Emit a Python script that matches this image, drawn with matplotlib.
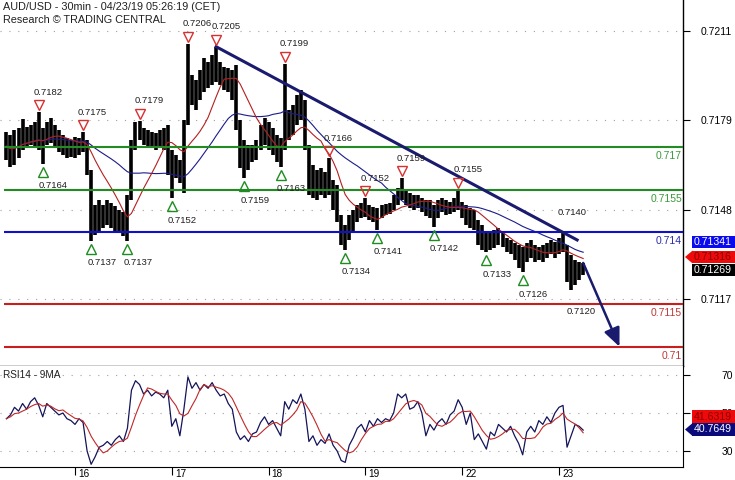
import numpy as np
import pandas as pd
import matplotlib
matplotlib.use("Agg")
import matplotlib.pyplot as plt
from matplotlib.patches import Polygon, Rectangle
from matplotlib.transforms import offset_copy

plt.rcParams['font.family'] = ['Liberation Sans', 'DejaVu Sans']

# AUD/USD (two bars merged into one hourly bar)
high = [
    0.71751, 0.71741, 0.71758, 0.71765, 0.71797, 0.71769, 0.71776, 0.71786, 0.7182, 0.71765,
    0.71786, 0.71800, 0.71776, 0.71758, 0.71741, 0.71730, 0.71723, 0.71734, 0.71730, 0.7175,
    0.71723, 0.71618, 0.71496, 0.71513, 0.71496, 0.71513, 0.71503, 0.71492, 0.71478, 0.71471,
    0.71531, 0.71723, 0.71786, 0.7179, 0.71765, 0.71758, 0.71751, 0.71748, 0.71758, 0.71765,
    0.71776, 0.71688, 0.71671, 0.71653, 0.71793, 0.7206, 0.71951, 0.71933, 0.71968, 0.72010,
    0.71996, 0.72021, 0.7205, 0.71996, 0.71979, 0.71975, 0.71968, 0.71986, 0.71793, 0.71723,
    0.71706, 0.71706, 0.71723, 0.71776, 0.71800, 0.71786, 0.71765, 0.71741, 0.71730, 0.7199,
    0.71828, 0.71846, 0.71881, 0.71898, 0.71863, 0.71706, 0.71636, 0.71618, 0.71625, 0.71611,
    0.7166, 0.71583, 0.71566, 0.71461, 0.71426, 0.71461, 0.71478, 0.71496, 0.71503, 0.7152,
    0.71496, 0.71489, 0.71485, 0.71496, 0.71499, 0.71503, 0.71531, 0.71555, 0.7159, 0.71548,
    0.71538, 0.71531, 0.71531, 0.71520, 0.71513, 0.71513, 0.71496, 0.71513, 0.71520, 0.71513,
    0.71506, 0.71520, 0.7155, 0.71506, 0.71496, 0.71485, 0.71478, 0.71443, 0.71426, 0.71401,
    0.71401, 0.71408, 0.71415, 0.71401, 0.71380, 0.71373, 0.71363, 0.71356, 0.71349, 0.71363,
    0.71373, 0.71356, 0.71349, 0.71356, 0.71363, 0.71373, 0.71366, 0.71380, 0.7140, 0.71356,
    0.71321, 0.71303, 0.71296, 0.71293,
]
low = [
    0.71653, 0.71629, 0.71636, 0.71660, 0.71688, 0.71699, 0.71706, 0.71695, 0.71688, 0.7164,
    0.71706, 0.71713, 0.71695, 0.71681, 0.71671, 0.71660, 0.71664, 0.71660, 0.71671, 0.71681,
    0.71601, 0.7137, 0.71391, 0.71401, 0.71415, 0.71426, 0.71415, 0.71401, 0.71398, 0.71387,
    0.7137, 0.71513, 0.71688, 0.71723, 0.71706, 0.71695, 0.71695, 0.71688, 0.71699, 0.71688,
    0.71601, 0.7152, 0.71590, 0.71573, 0.71538, 0.71776, 0.71846, 0.71828, 0.71863, 0.71891,
    0.71905, 0.71916, 0.71926, 0.71916, 0.71898, 0.71891, 0.71863, 0.71758, 0.71625, 0.7159,
    0.71618, 0.71646, 0.71653, 0.71688, 0.71706, 0.71688, 0.71671, 0.71646, 0.7163, 0.71688,
    0.71723, 0.71741, 0.71776, 0.71793, 0.71688, 0.71531, 0.71520, 0.71513, 0.71531, 0.71520,
    0.71531, 0.71478, 0.71436, 0.71356, 0.7134, 0.71373, 0.71401, 0.71436, 0.71450, 0.71454,
    0.71443, 0.71436, 0.7141, 0.71450, 0.71461, 0.71464, 0.71478, 0.71496, 0.71513, 0.71496,
    0.71485, 0.71478, 0.71485, 0.71471, 0.71457, 0.71450, 0.7142, 0.71450, 0.71471, 0.71461,
    0.71464, 0.71471, 0.71478, 0.71450, 0.71426, 0.71415, 0.71408, 0.71356, 0.71338, 0.7133,
    0.71338, 0.71345, 0.71356, 0.71349, 0.71331, 0.71324, 0.71303, 0.71275, 0.7126, 0.71296,
    0.71310, 0.71296, 0.71303, 0.71296, 0.71310, 0.71324, 0.71310, 0.71324, 0.71331, 0.71226,
    0.7120, 0.71216, 0.71233, 0.71250,
]
rsi = [
    47, 49, 53, 51, 55, 52, 56, 58, 54, 48, 55, 53, 51, 49, 50, 47, 46, 44, 47, 45,
    30, 23, 27, 32, 33, 35, 33, 36, 38, 35, 42, 62, 67, 65, 60, 62, 59, 61, 60, 58,
    62, 43, 47, 38, 52, 69, 63, 66, 62, 65, 63, 66, 62, 59, 60, 55, 52, 40, 36, 38,
    35, 39, 40, 45, 48, 44, 46, 42, 38, 56, 52, 57, 55, 60, 52, 35, 38, 33, 36, 34,
    39, 33, 30, 25, 24, 33, 37, 42, 44, 40, 46, 43, 47, 45, 47, 46, 50, 60, 58, 60,
    52, 53, 56, 50, 38, 44, 41, 45, 47, 44, 49, 51, 57, 53, 44, 50, 36, 39, 35, 31,
    40, 38, 44, 42, 40, 43, 38, 34, 28, 40, 43, 40, 46, 44, 48, 45, 50, 53, 54, 32,
    38, 44, 43, 41,
]

pivot_highs = [9, 20, 34, 46, 53, 70, 81, 90, 99, 113]
pivot_lows = [10, 22, 31, 42, 60, 69, 85, 93, 107, 120, 129]
note_high = 139
note_low = 141

levels = [0.717, 0.7155, 0.714, 0.7115, 0.71]
level_colors = ['#228b22', '#228b22', '#1010c8', '#c81e1e', '#c81e1e']
level_text_colors = ['#3a9a3a', '#3a9a3a', '#2a2ab0', '#c03838', '#c03838']

day_ticks = [18, 42, 66, 90, 114, 138]
day_labels = ['16', '17', '18', '19', '22', '23']
price_ticks = [0.72104, 0.71792, 0.71480, 0.71168]
price_tick_labels = ['0.7211', '0.7179', '0.7148', '0.7117']
rsi_ticks = [70, 50, 30]

trend_from, trend_to = 53, 139
arrow_end_bar = 153
ma_tags = ['0.71341', '0.71316', '0.71269']
rsi_tags = ['41.6319', '40.7649']

x = np.arange(1, len(high) + 1)
hi = np.array(high)
lo = np.array(low)
mid = pd.Series((hi + lo) / 2)
ma_fast = mid.rolling(10, min_periods=1).mean()
ma_slow = mid.rolling(25, min_periods=1).mean()
rsi_ma = pd.Series(rsi).rolling(5, min_periods=1).mean()

W, H = 735, 480
fig = plt.figure(figsize=(W / 100, H / 100), dpi=100)
ax = fig.add_axes([0, 1 - 366 / H, 683 / W, 366 / H])
ax2 = fig.add_axes([0, 1 - 467 / H, 683 / W, 101 / H])
xlim = (-0.595, 168.75)

# price panel
ax.vlines(x, lo, hi, color='black', lw=2.6, zorder=2)
ax.plot(x, ma_slow, color='#1c1c8c', lw=0.8, zorder=3)
ax.plot(x, ma_fast, color='#b42020', lw=0.8, zorder=3)
for lev, c, tc in zip(levels, level_colors, level_text_colors):
    ax.hlines(lev, 0.4, xlim[1], color=c, lw=1.5, zorder=4)
    ax.annotate(f'{lev:g}', xy=(1, lev), xycoords=('axes fraction', 'data'),
                xytext=(-1, -9), textcoords='offset pixels', ha='right', va='center',
                color=tc, fontsize=7.5)

t0, t1 = trend_from - 1, trend_to - 1
slope = (hi[t1] - hi[t0]) / (x[t1] - x[t0])
tx = np.array([x[t0], x[t1] + 3.5])
ax.plot(tx, hi[t0] + slope * (tx - x[t0]), color='#1a1a6e', lw=2.2, zorder=5)
ax.annotate('', xy=(arrow_end_bar, levels[-1]), xytext=(x[-1], hi[-1]),
            arrowprops=dict(arrowstyle='-|>,head_length=0.8,head_width=0.35',
                            mutation_scale=14, color='#1a1a6e', lw=1.8,
                            shrinkA=0, shrinkB=0), zorder=5)

red_mk = offset_copy(ax.transData, fig=fig, y=7, units='dots')
green_mk = offset_copy(ax.transData, fig=fig, y=-8, units='dots')
for i in pivot_highs:
    ax.plot(x[i - 1], hi[i - 1], marker='v', ms=7, mfc='none', mec='#d83030', mew=1,
            transform=red_mk, zorder=6)
for i in pivot_lows:
    ax.plot(x[i - 1], lo[i - 1], marker='^', ms=7, mfc='none', mec='#1e8c1e', mew=1,
            transform=green_mk, zorder=6)
for i in pivot_highs + [note_high]:
    ax.annotate(f'{hi[i - 1]:.4f}', xy=(x[i - 1], hi[i - 1]), xytext=(-5, 20),
                textcoords='offset pixels', ha='left', va='center', fontsize=6.8,
                color='#202020', zorder=6)
for i in pivot_lows + [note_low]:
    ax.annotate(f'{lo[i - 1]:.4f}', xy=(x[i - 1], lo[i - 1]), xytext=(-4, -22),
                textcoords='offset pixels', ha='left', va='center', fontsize=6.8,
                color='#202020', zorder=6)

ax.set_xlim(*xlim)
ax.set_ylim(0.709324, 0.722135)
ax.set_xticks([])
ax.yaxis.tick_right()
ax.set_yticks(price_ticks)
ax.set_yticklabels(price_tick_labels)
ax.tick_params(axis='y', direction='out', length=5, width=0.8, pad=7.5, labelsize=7.5)
ax.grid(axis='y', linestyle=(0, (1, 7)), color='#a0a0a0', lw=0.8)
for s in ['left', 'top']:
    ax.spines[s].set_visible(False)
ax.spines['right'].set_linewidth(1)
ax.spines['bottom'].set_linewidth(1)

# RSI panel
ax2.plot(x, rsi, color='#14145a', lw=0.9)
ax2.plot(x, rsi_ma, color='#c02828', lw=0.8)
ax2.set_xlim(*xlim)
ax2.set_ylim(21.58, 74.74)
ax2.yaxis.tick_right()
ax2.set_yticks(rsi_ticks)
ax2.set_yticklabels([str(v) for v in rsi_ticks])
ax2.tick_params(axis='y', direction='out', length=5, width=0.8, pad=23, labelsize=7.5)
ax2.set_xticks(day_ticks)
ax2.set_xticklabels([''] * len(day_ticks))
ax2.tick_params(axis='x', direction='out', length=6, width=0.8)
for t, lab in zip(day_ticks, day_labels):
    ax2.annotate(lab, xy=(t, 0), xycoords=('data', 'axes fraction'), xytext=(3, -7),
                 textcoords='offset pixels', ha='left', va='center', fontsize=7.2,
                 annotation_clip=False)
ax2.grid(axis='y', linestyle=(0, (1, 7)), color='#a0a0a0', lw=0.8)
for s in ['left', 'top']:
    ax2.spines[s].set_visible(False)
ax2.text(3 / 683, 1 - 9 / 101, 'RSI14 - 9MA', transform=ax2.transAxes, fontsize=7.2,
         va='center', ha='left', color='#202020')

fig.text(3 / W, 1 - 7 / H, 'AUD/USD - 30min - 04/23/19 05:26:19 (CET)', fontsize=7.8,
         va='center', ha='left', color='#202020')
fig.text(3 / W, 1 - 20 / H, 'Research \u00a9 TRADING CENTRAL', fontsize=7.8,
         va='center', ha='left', color='#202020')


def tag(ypx, text, bg, fg, pointer=False):
    h = 12.8
    fig.add_artist(Rectangle((692 / W, 1 - (ypx + h / 2) / H), 50 / W, h / H,
                             transform=fig.transFigure, color=bg, lw=0))
    if pointer:
        fig.add_artist(Polygon([[685 / W, 1 - ypx / H], [692.5 / W, 1 - (ypx - h / 2) / H],
                                [692.5 / W, 1 - (ypx + h / 2) / H]], closed=True,
                               transform=fig.transFigure, color=bg, lw=0))
    fig.text(694 / W, 1 - ypx / H, text, color=fg, fontsize=7.6, va='center', ha='left')


tag(242, ma_tags[0], '#0a0aee', 'white')
tag(257, ma_tags[1], '#ee0a0a', '#8a0000', pointer=True)
tag(270, ma_tags[2], 'black', 'white')
tag(416.7, rsi_tags[0], '#ee0a0a', '#8a0000')
tag(429.5, rsi_tags[1], '#0a0a7a', 'white', pointer=True)

fig.savefig('out.png', dpi=100)
